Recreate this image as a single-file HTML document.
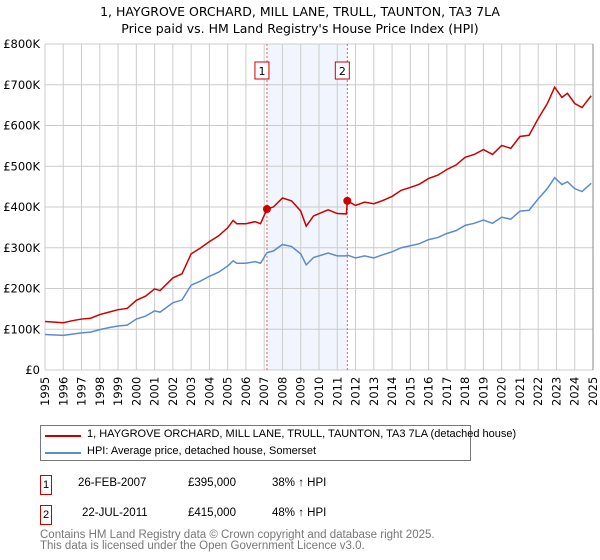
<!DOCTYPE html>
<html><head><meta charset="utf-8">
<style>
body{margin:0;background:#fff;font-family:"DejaVu Sans","Liberation Sans",sans-serif;}
#wrap{position:relative;width:600px;height:560px;overflow:hidden}
svg text{font-family:"DejaVu Sans","Liberation Sans",sans-serif;}
.abs{position:absolute;white-space:nowrap;font-size:12px;color:#000;font-family:"Liberation Sans","DejaVu Sans",sans-serif}
</style></head><body>
<div id="wrap">
<svg id="chart" width="600" height="415" style="position:absolute;left:0;top:0">
<text x="300" y="16" text-anchor="middle" font-size="12.5">1, HAYGROVE ORCHARD, MILL LANE, TRULL, TAUNTON, TA3 7LA</text>
<text x="300" y="33" text-anchor="middle" font-size="12.5">Price paid vs. HM Land Registry's House Price Index (HPI)</text>
</svg>
<div class="abs" style="left:40px;top:425px;width:429px;height:34px;border:1px solid #777">
 <div style="position:absolute;left:4px;top:4px;width:36px;height:2px;background:#cc0000;margin-top:5px"></div>
 <div style="position:absolute;left:46px;top:2px;font-size:11px">1, HAYGROVE ORCHARD, MILL LANE, TRULL, TAUNTON, TA3 7LA (detached house)</div>
 <div style="position:absolute;left:4px;top:21px;width:36px;height:2px;background:#5b8bd0;margin-top:5px"></div>
 <div style="position:absolute;left:46px;top:19px;font-size:11px">HPI: Average price, detached house, Somerset</div>
</div>
<div class="abs" style="left:40px;top:475px;width:10px;height:18px;border:1px solid #cc0000;text-align:center;line-height:18px;font-size:11px">1</div>
<div class="abs" style="left:78px;top:477px;font-size:11.5px">26-FEB-2007</div>
<div class="abs" style="left:188px;top:477px;font-size:11.5px">£395,000</div>
<div class="abs" style="left:272px;top:477px;font-size:11.5px">38% ↑ HPI</div>
<div class="abs" style="left:40px;top:505px;width:10px;height:18px;border:1px solid #cc0000;text-align:center;line-height:18px;font-size:11px">2</div>
<div class="abs" style="left:82px;top:507px;font-size:11.5px">22-JUL-2011</div>
<div class="abs" style="left:188px;top:507px;font-size:11.5px">£415,000</div>
<div class="abs" style="left:272px;top:507px;font-size:11.5px">48% ↑ HPI</div>
<div class="abs" style="left:40px;top:530px;font-size:11.5px;color:#777;line-height:11px">Contains HM Land Registry data © Crown copyright and database right 2025.<br>This data is licensed under the Open Government Licence v3.0.</div>
</div>
<script>
const dates=[1995.0,1996.0,1996.5,1997.0,1997.5,1998.0,1998.5,1999.0,1999.5,2000.0,2000.5,2001.0,2001.3,2002.0,2002.5,2003.0,2003.5,2004.0,2004.5,2005.0,2005.3,2005.5,2006.0,2006.5,2006.8,2007.15,2007.5,2008.0,2008.5,2009.0,2009.3,2009.7,2010.5,2011.0,2011.5,2011.55,2012.0,2012.5,2013.0,2013.5,2014.0,2014.5,2015.0,2015.5,2016.0,2016.5,2017.0,2017.5,2018.0,2018.5,2019.0,2019.5,2020.0,2020.5,2021.0,2021.5,2022.0,2022.5,2022.9,2023.3,2023.6,2024.0,2024.4,2024.9];
const hpiValues=[87,85,88,91,93,99,104,108,110,125,132,145,142,165,172,208,218,230,240,255,268,262,262,266,262,288,292,308,303,285,258,276,287,280,280,282,275,280,275,283,290,300,305,310,320,325,335,342,355,360,368,360,375,370,390,392,420,445,472,455,462,445,438,458];
const priceValues=[119,116,121,125,127,136,142,148,151,171,181,199,195,226,236,285,299,315,329,349,367,359,359,364,359,395,400,422,415,390,353,378,393,384,383,415,404,412,408,416,426,441,448,456,470,478,492,503,522,529,541,529,551,544,573,576,617,654,694,669,679,654,644,673];
const saleDates=[2007.15,2011.55];
const salePrices=[395,415];
const saleLabels=["1","2"];
const yTicks=[0,100,200,300,400,500,600,700,800];
const yTickLabels=["£0","£100K","£200K","£300K","£400K","£500K","£600K","£700K","£800K"];
const xTicks=[1995,1996,1997,1998,1999,2000,2001,2002,2003,2004,2005,2006,2007,2008,2009,2010,2011,2012,2013,2014,2015,2016,2017,2018,2019,2020,2021,2022,2023,2024,2025];

const X0=45,X1=593,Y0=370,Y1=44;
const xs=d=>X0+(d-1995)/30*(X1-X0);
const ys=v=>Y0-v/800*(Y0-Y1);
const svg=document.getElementById('chart');
const NS='http://www.w3.org/2000/svg';
function mk(t,a){const e=document.createElementNS(NS,t);for(const k in a)e.setAttribute(k,a[k]);svg.appendChild(e);return e;}
const shade=mk('rect',{x:xs(saleDates[0]),y:Y1,width:xs(saleDates[1])-xs(saleDates[0]),height:Y0-Y1,fill:'#f1f5fd'});


xTicks.forEach(t=>{
 const g=mk('line',{x1:xs(t),x2:xs(t),y1:Y1,y2:Y0,stroke:'#cccccc','stroke-width':1});
 
 
 const lb=mk('text',{transform:`translate(${xs(t)+4},${Y0+36}) rotate(-90)`,'font-size':'11.5'});
 lb.textContent=t;
 
 
});
yTicks.forEach((t,i)=>{
 const g=mk('line',{x1:X0,x2:X1,y1:ys(t),y2:ys(t),stroke:'#cccccc','stroke-width':1});
 
 
 const lb=mk('text',{x:X0-5,y:ys(t)+4,'text-anchor':'end','font-size':'11.5'});
 lb.textContent=yTickLabels[i];
 
 
});
const rb=mk('line',{x1:X1,x2:X1,y1:Y1,y2:Y0,stroke:'#888','stroke-width':1});


saleDates.forEach((d,i)=>{
 const l=mk('line',{x1:xs(d),x2:xs(d),y1:Y1,y2:Y0,stroke:'#e06060','stroke-width':1,'stroke-dasharray':'2,2'});
 
 
 const r=mk('rect',{x:xs(d)-12,y:62,width:14,height:17,fill:'#fff',stroke:'#cc0000','stroke-width':1});
 
 
 const t=mk('text',{x:xs(d)-5,y:75,'text-anchor':'middle','font-size':'11'});
 t.textContent=saleLabels[i];
 
 
});
const hp=mk('polyline',{points:dates.map((d,i)=>xs(d)+','+ys(hpiValues[i])).join(' '),fill:'none',stroke:'#5b8bd0','stroke-width':1.5});


const pp=mk('polyline',{points:dates.map((d,i)=>xs(d)+','+ys(priceValues[i])).join(' '),fill:'none',stroke:'#cc0000','stroke-width':1.5});


saleDates.forEach((d,i)=>{
 const c=mk('circle',{cx:xs(d),cy:ys(salePrices[i]),r:4,fill:'#cc0000'});
 
 
});
</script>
</body></html>
